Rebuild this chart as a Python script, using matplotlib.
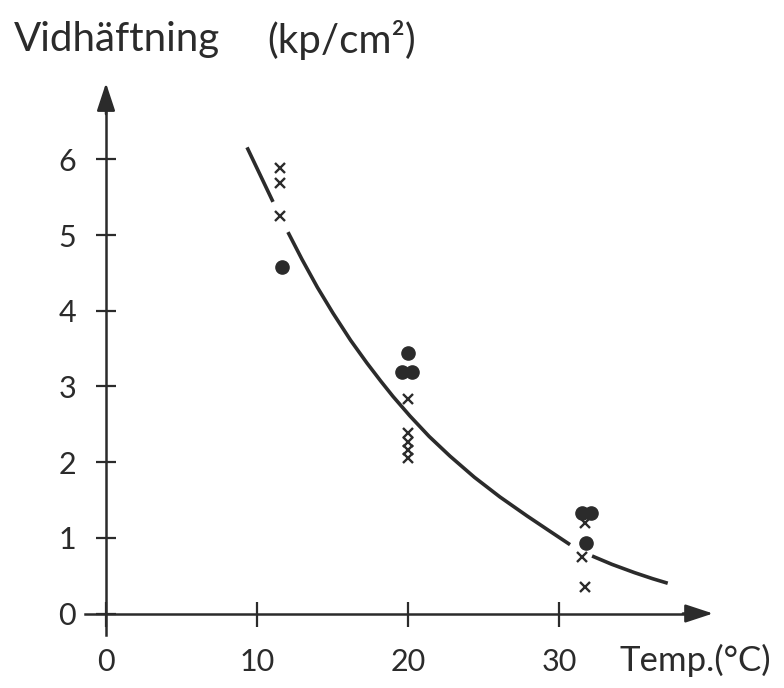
import matplotlib
matplotlib.use("Agg")
import matplotlib.pyplot as plt

# Adhesion (kp/cm²) versus temperature (°C)
cross_temp = [11.5, 11.5, 11.5,
              20.0, 20.0, 20.0, 20.0, 20.0,
              31.7, 31.5, 31.7]
cross_adh = [5.89, 5.69, 5.25,
             2.83, 2.38, 2.27, 2.16, 2.06,
             1.20, 0.75, 0.35]

dot_temp = [11.65, 20.0, 19.6, 20.26, 31.52, 32.12, 31.79]
dot_adh = [4.58, 3.44, 3.19, 3.19, 1.33, 1.33, 0.93]

# Fitted curve, drawn in three pieces with gaps where it passes the markers
curve_pieces = [
    ([9.34, 10.2, 11.06], [6.16, 5.80, 5.44]),
    ([12.05, 12.98, 14.0, 15.03, 16.2, 17.28, 18.2, 19.0, 20.13, 21.4,
      22.78, 24.4, 26.09, 27.88, 29.3, 30.73],
     [5.04, 4.68, 4.31, 3.97, 3.61, 3.31, 3.07, 2.87, 2.61, 2.34,
      2.08, 1.80, 1.54, 1.29, 1.10, 0.91]),
    ([32.19, 33.5, 35.0, 36.2, 37.2], [0.76, 0.65, 0.54, 0.46, 0.40]),
]

x_ticks = [0, 10, 20, 30]
y_ticks = [0, 1, 2, 3, 4, 5, 6]

ink = "#2b2b2b"
plt.rcParams["font.family"] = ["Lato", "DejaVu Sans"]
plt.rcParams["font.weight"] = "normal"

fig = plt.figure(figsize=(7.84, 6.88), dpi=100, facecolor="white")
ax = fig.add_axes([0, 0, 1, 1])
ax.set_facecolor("white")

# pixel scale: 15.1 px per °C, 75.67 px per kp/cm², origin at (106, 613.5)
ax.set_xlim(-106 / 15.1, (784 - 106) / 15.1)
ax.set_ylim((613.5 - 688) / 75.67, 613.5 / 75.67)

for s in ("top", "right"):
    ax.spines[s].set_visible(False)
ax.spines["left"].set_position(("data", 0))
ax.spines["bottom"].set_position(("data", 0))
ax.spines["left"].set_bounds(-0.28, 6.75)
ax.spines["bottom"].set_bounds(-1.39, 38.5)
for s in ("left", "bottom"):
    ax.spines[s].set_color(ink)
    ax.spines[s].set_linewidth(1.8)

ax.set_xticks(x_ticks)
ax.set_yticks(y_ticks)
ax.set_xticklabels([str(v) for v in x_ticks])
ax.set_yticklabels([str(v) for v in y_ticks])
ax.tick_params(axis="both", direction="inout", color=ink, width=1.6,
               labelsize=22, labelcolor=ink)
ax.tick_params(axis="x", length=18, pad=16)
ax.tick_params(axis="y", length=15, pad=14)

# arrow heads on the axes
arrow_kw = dict(arrowstyle="-|>,head_length=0.85,head_width=0.28",
                color=ink, lw=1.8, mutation_scale=20, shrinkA=0, shrinkB=0)
ax.annotate("", xy=(0, 7.01), xytext=(0, 6.6), arrowprops=arrow_kw,
            annotation_clip=False)
ax.annotate("", xy=(40.2, 0), xytext=(38.2, 0), arrowprops=arrow_kw,
            annotation_clip=False)

for xs, ys in curve_pieces:
    ax.plot(xs, ys, color=ink, lw=2.6, solid_capstyle="butt",
            solid_joinstyle="round")

ax.plot(cross_temp, cross_adh, linestyle="none", marker="x", ms=7.5,
        mew=1.7, color=ink)
ax.plot(dot_temp, dot_adh, linestyle="none", marker="o", ms=9.5,
        color=ink, mec=ink)

ax.text(-6.1, 7.58, "Vidhäftning", fontsize=29, color=ink,
        ha="left", va="center")
ax.text(10.7, 7.58, "(kp/cm²)", fontsize=29, color=ink,
        ha="left", va="center")
ax.text(34.0, -0.62, "Temp.(°C)", fontsize=25, color=ink,
        ha="left", va="center")

fig.savefig("out.png", dpi=100, facecolor="white")
